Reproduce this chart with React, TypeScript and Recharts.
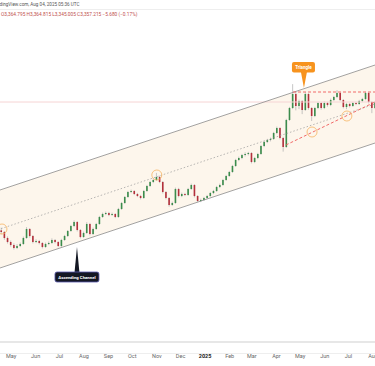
import React from "react";
import {
  ComposedChart,
  Bar,
  Line,
  Area,
  XAxis,
  YAxis,
  ReferenceLine,
  ReferenceDot,
} from "recharts";

// candle every 4 calendar days, day 0 = 2024-04-01
const startDay = 17;
const stepDays = 4;

const closes = [
  2317, 2269, 2237, 2213, 2189, 2205, 2221, 2269, 2341, 2285,
  2237, 2245, 2229, 2197, 2221, 2229, 2253, 2237, 2205, 2253,
  2285, 2325, 2365, 2397, 2333, 2277, 2309, 2381, 2301, 2341,
  2381, 2437, 2461, 2469, 2453, 2461, 2437, 2501, 2549, 2597,
  2637, 2645, 2621, 2605, 2589, 2645, 2685, 2717, 2733, 2757,
  2717, 2637, 2589, 2533, 2549, 2661, 2605, 2621, 2613, 2661,
  2693, 2605, 2565, 2573, 2589, 2605, 2629, 2645, 2677, 2693,
  2733, 2765, 2797, 2845, 2893, 2909, 2933, 2941, 2949, 2877,
  2909, 2941, 3005, 3037, 3053, 3061, 3109, 3149, 3069, 2997,
  3213, 3309, 3421, 3325, 3365, 3293, 3421, 3309, 3245, 3309,
  3349, 3309, 3349, 3333, 3373, 3397, 3429, 3373, 3317, 3341,
  3325, 3349, 3341, 3365, 3381, 3429, 3357, 3309, 3357,
];
const highs = [
  2352, 2325, 2281, 2249, 2226, 2219, 2233, 2280, 2356, 2349,
  2293, 2258, 2254, 2236, 2232, 2241, 2266, 2261, 2244, 2262,
  2294, 2333, 2374, 2410, 2405, 2341, 2320, 2395, 2390, 2352,
  2390, 2446, 2472, 2480, 2478, 2472, 2468, 2510, 2558, 2605,
  2646, 2656, 2652, 2630, 2614, 2654, 2694, 2726, 2745, 2790,
  2768, 2725, 2645, 2597, 2560, 2672, 2670, 2632, 2630, 2670,
  2704, 2700, 2612, 2584, 2598, 2614, 2638, 2654, 2686, 2704,
  2742, 2774, 2806, 2854, 2902, 2920, 2942, 2954, 2958, 2956,
  2918, 2950, 3014, 3046, 3062, 3072, 3118, 3160, 3156, 3078,
  3222, 3318, 3500, 3440, 3376, 3372, 3435, 3428, 3316, 3318,
  3358, 3356, 3362, 3358, 3384, 3406, 3452, 3436, 3380, 3350,
  3350, 3358, 3358, 3374, 3390, 3438, 3436, 3364, 3365,
];
const lows = [
  2298, 2255, 2225, 2200, 2177, 2180, 2196, 2214, 2262, 2272,
  2226, 2228, 2218, 2186, 2190, 2212, 2222, 2226, 2195, 2198,
  2246, 2277, 2318, 2356, 2322, 2266, 2270, 2302, 2290, 2293,
  2334, 2374, 2430, 2452, 2444, 2446, 2428, 2430, 2494, 2542,
  2590, 2628, 2612, 2596, 2578, 2582, 2638, 2678, 2708, 2726,
  2708, 2626, 2578, 2520, 2526, 2542, 2594, 2596, 2604, 2606,
  2654, 2594, 2556, 2556, 2566, 2582, 2598, 2620, 2638, 2668,
  2686, 2726, 2758, 2790, 2838, 2884, 2900, 2922, 2930, 2866,
  2868, 2900, 2934, 2996, 3028, 3042, 3054, 3100, 3058, 2960,
  2990, 3206, 3300, 3290, 3300, 3260, 3286, 3296, 3205, 3236,
  3300, 3296, 3300, 3320, 3324, 3364, 3388, 3364, 3306, 3300,
  3314, 3318, 3332, 3334, 3356, 3372, 3346, 3268, 3300,
];
const firstOpen = 2330;

// ascending channel anchors (drawn lines, extend past both edges)
const channelDays = [-100, 600];
const channelUpper = [2408, 3886];
const channelLower = [1784, 3262];
const channelMid = [2096, 3574];

// triangle lines
const triTop = { from: 386, to: 489.5, price: 3437 };
const triBase = { from: [377, 3013], to: [489.5, 3357] };

// highlighted touches on the mid line
const touchDays = [18.5, 214, 410, 454];
const touchPrices = [2341, 2773, 3117, 3245];

const lastPrice = 3357;

const monthTicks = [30, 61, 91, 122, 153, 183, 214, 244, 275, 306, 334, 365, 395, 426, 456, 487];
const monthLabels = ["May", "Jun", "Jul", "Aug", "Sep", "Oct", "Nov", "Dec", "2025", "Feb", "Mar", "Apr", "May", "Jun", "Jul", "Aug"];

type Row = {
  t: number;
  o?: number;
  h?: number;
  l?: number;
  c?: number;
  up?: number;
  lo?: number;
  mid?: number;
  band?: [number, number];
};

const candles: Row[] = closes.map((c, i) => ({
  t: startDay + i * stepDays,
  o: i === 0 ? firstOpen : closes[i - 1],
  h: highs[i],
  l: lows[i],
  c,
}));

const data: Row[] = [
  {
    t: channelDays[0],
    up: channelUpper[0],
    lo: channelLower[0],
    mid: channelMid[0],
    band: [channelLower[0], channelUpper[0]],
  },
  ...candles,
  {
    t: channelDays[1],
    up: channelUpper[1],
    lo: channelLower[1],
    mid: channelMid[1],
    band: [channelLower[1], channelUpper[1]],
  },
];

const Candle = (props: any) => {
  const { x, y, width, height, payload } = props;
  if (!payload || payload.c === undefined || !height) return <g />;
  const { o, h, l, c } = payload;
  const k = height / (h - l);
  const cx = x + width / 2;
  const top = y + (h - Math.max(o, c)) * k;
  const bot = y + (h - Math.min(o, c)) * k;
  const color = c >= o ? "#3b8c4c" : "#b3303c";
  return (
    <g>
      <line x1={cx} x2={cx} y1={y} y2={y + height} stroke="#adadad" strokeWidth={0.7} />
      <rect x={cx - 0.8} y={top} width={1.6} height={Math.max(bot - top, 0.8)} fill={color} />
    </g>
  );
};

const MonthTick = (props: any) => {
  const { x, y, payload } = props;
  const i = monthTicks.indexOf(payload.value);
  const label = monthLabels[i] ?? "";
  const isYear = label === "2025";
  return (
    <text
      x={x}
      y={y + 8}
      textAnchor="middle"
      fontSize={5.5}
      fontWeight={isYear ? 700 : 400}
      fill={isYear ? "#222" : "#666"}
    >
      {label}
    </text>
  );
};

const TriangleTag = (props: any) => {
  const { cx, cy } = props;
  return (
    <g>
      <path d={`M${cx - 3},${cy - 16} L${cx + 3},${cy - 16} L${cx},${cy} Z`} fill="#f7931e" />
      <rect x={cx - 12} y={cy - 26} width={23} height={10.5} rx={2} fill="#f7931e" />
      <text x={cx - 0.5} y={cy - 19.3} textAnchor="middle" fontSize={4.5} fontWeight={700} fill="#fff">
        Triangle
      </text>
    </g>
  );
};

const ChannelTag = (props: any) => {
  const { cx, cy } = props;
  return (
    <g>
      <path d={`M${cx - 2.5},${cy + 26} L${cx + 2.5},${cy + 26} L${cx},${cy} Z`} fill="#131722" />
      <rect
        x={cx - 22}
        y={cy + 25}
        width={44}
        height={10}
        rx={2}
        fill="#131722"
        stroke="#5b5bb0"
        strokeWidth={0.8}
      />
      <text x={cx} y={cy + 31.7} textAnchor="middle" fontSize={4.3} fontWeight={700} fill="#fff">
        Ascending Channel
      </text>
    </g>
  );
};

export default function App() {
  return (
    <div
      style={{
        position: "relative",
        width: 375,
        height: 366,
        overflow: "hidden",
        background: "#fff",
        fontFamily: "Roboto, 'Liberation Sans', sans-serif",
      }}
    >
      <style>{`body{margin:0}`}</style>
      <ComposedChart
        width={375}
        height={366}
        data={data}
        margin={{ top: 20, right: 0, bottom: 0, left: 0 }}
      >
        <XAxis
          dataKey="t"
          type="number"
          domain={[16, 489.5]}
          allowDataOverflow
          ticks={monthTicks}
          tick={<MonthTick />}
          tickLine={false}
          axisLine={{ stroke: "#cfcfcf" }}
          height={24}
          interval={0}
        />
        <YAxis type="number" domain={[1437, 4013]} allowDataOverflow hide />
        <Area
          dataKey="band"
          stroke="none"
          fill="#fdf6ec"
          fillOpacity={1}
          connectNulls
          dot={false}
          activeDot={false}
          isAnimationActive={false}
        />
        <ReferenceLine y={lastPrice} stroke="#f6d4d4" strokeWidth={1} />
        <Line dataKey="up" stroke="#8c8c8c" strokeWidth={0.8} dot={false} connectNulls isAnimationActive={false} />
        <Line dataKey="lo" stroke="#8c8c8c" strokeWidth={0.8} dot={false} connectNulls isAnimationActive={false} />
        <Line
          dataKey="mid"
          stroke="#9a9a9a"
          strokeWidth={0.7}
          strokeDasharray="1.5 2"
          dot={false}
          connectNulls
          isAnimationActive={false}
        />
        <ReferenceLine
          segment={[
            { x: triTop.from, y: triTop.price },
            { x: triTop.to, y: triTop.price },
          ]}
          stroke="#ef5a5a"
          strokeWidth={0.9}
          strokeDasharray="3 2"
          ifOverflow="visible"
        />
        <ReferenceLine
          segment={[
            { x: triBase.from[0], y: triBase.from[1] },
            { x: triBase.to[0], y: triBase.to[1] },
          ]}
          stroke="#ef5a5a"
          strokeWidth={0.9}
          strokeDasharray="3 2"
          ifOverflow="visible"
        />
        <Bar
          dataKey={(d: Row) => (d.c === undefined ? undefined : [d.l, d.h])}
          barSize={2}
          shape={<Candle />}
          isAnimationActive={false}
        />
        {touchDays.map((t, i) => (
          <ReferenceDot
            key={i}
            x={t}
            y={touchPrices[i]}
            r={5}
            fill="none"
            stroke="#f6b462"
            strokeWidth={0.8}
            ifOverflow="visible"
          />
        ))}
        <ReferenceDot x={399.8} y={3469} r={1} shape={<TriangleTag />} ifOverflow="visible" />
        <ReferenceDot x={113.2} y={2197} r={1} shape={<ChannelTag />} ifOverflow="visible" />
      </ComposedChart>
      <div
        style={{
          position: "absolute",
          left: -7,
          top: 2,
          fontSize: 4.6,
          color: "#555",
          whiteSpace: "nowrap",
          lineHeight: "5px",
        }}
      >
        TradingView.com, Aug 04, 2025 05:36 UTC
      </div>
      <div style={{ position: "absolute", left: 0, top: 9, width: 375, height: 0, borderTop: "1px solid #eee" }} />
      <div
        style={{
          position: "absolute",
          left: 1,
          top: 12,
          fontSize: 4.8,
          color: "#c0504d",
          whiteSpace: "nowrap",
          lineHeight: "5px",
        }}
      >
        O3,364.795 H3,364.815 L3,345.005 C3,357.215 −5.680 (−0.17%)
      </div>
      <div style={{ position: "absolute", left: 0, top: 353, width: 375, height: 0, borderTop: "1px solid #eee" }} />
    </div>
  );
}
